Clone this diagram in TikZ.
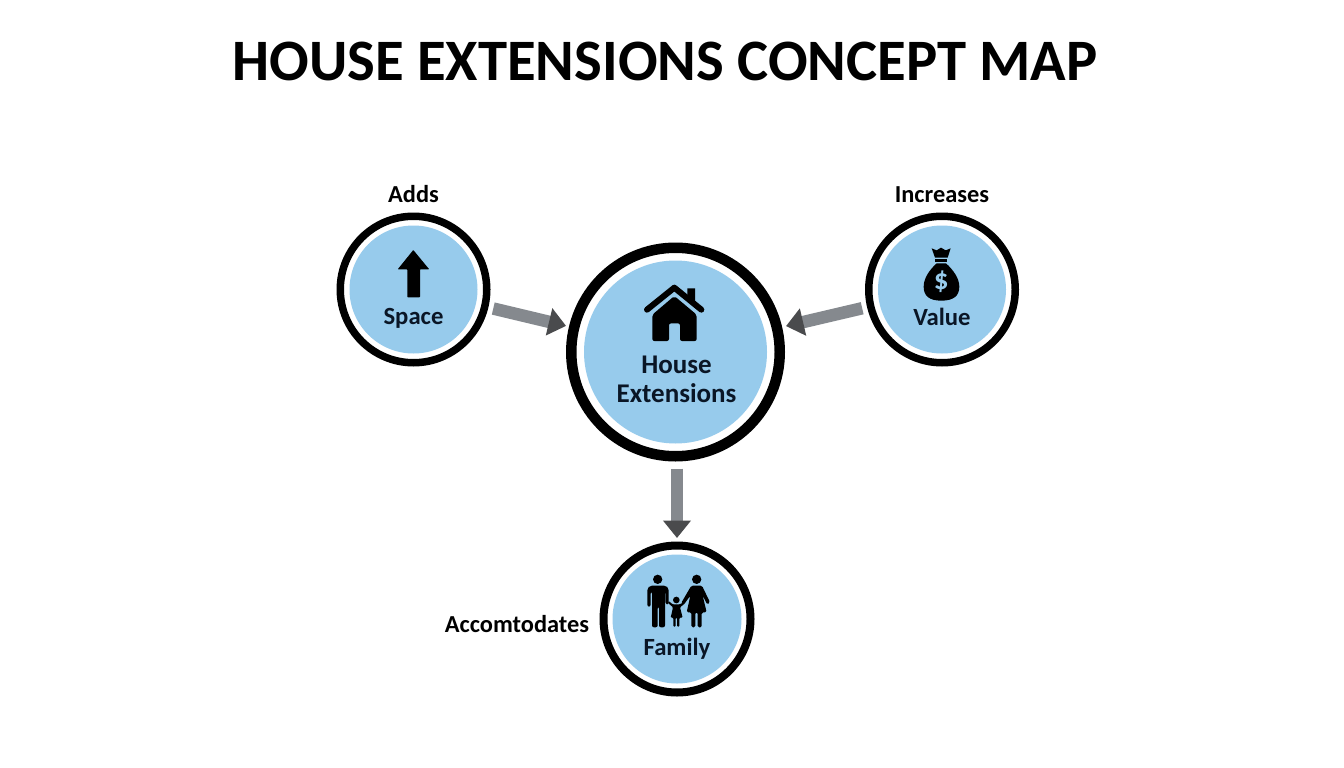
\documentclass[tikz,border=0pt]{standalone}
\usepackage{fontspec}
\setmainfont{Carlito}
\usetikzlibrary{arrows.meta}
\definecolor{bubble}{HTML}{97CBEC}
\definecolor{ink}{HTML}{0A1626}
\definecolor{shaft}{HTML}{85898E}
\definecolor{headc}{HTML}{4A4B4D}
\tikzset{
  x=1pt,y=-1pt,
  ringnode/.style n args={3}{circle,draw=black,fill=white,inner sep=0pt,
    line width=#2,minimum size=#1,
    path picture={\fill[bubble] (path picture bounding box.center) circle (#3);}},
  conn/.style={draw=shaft,line width=12.5pt,
    -{Triangle[length=17.5pt,width=27pt,color=headc]}},
  caption/.style={font=\fontsize{24.4}{28}\selectfont\bfseries,text=black,inner sep=0pt},
  inner label/.style={font=\fontsize{24.7}{29}\selectfont\bfseries,text=ink,inner sep=0pt,align=center},
}
\begin{document}
\begin{tikzpicture}
\useasboundingbox (0,0) rectangle (1344,768);
\fill[white] (0,0) rectangle (1344,768);
\node[font=\fontsize{58.7}{64}\selectfont\bfseries,text=black,inner sep=0pt] (title) at (665,61) {HOUSE EXTENSIONS CONCEPT MAP};

\node[ringnode={208.5pt}{10.5pt}{91.5pt}] (house) at (675.5,352) {};
\node[ringnode={146.5pt}{7.5pt}{64pt}] (space) at (413.5,289.5) {};
\node[ringnode={146.5pt}{7.5pt}{64pt}] (value) at (942,289.5) {};
\node[ringnode={147pt}{8pt}{64.5pt}] (family) at (677,619) {};

\draw[conn,shorten <=5pt,shorten >=3pt] (space) -- (house);
\draw[conn,shorten <=5pt,shorten >=4pt] (value) -- (house);
\draw[conn,shorten <=7pt,shorten >=3.5pt] (family |- house.south) -- (family.north);

\node[caption] (adds) at (413.5,194) {Adds};
\node[caption] (incr) at (942,195) {Increases};
\node[caption] (acc) at (517,624.5) {Accomtodates};

\node[inner label] (spacet) at (413.5,318) {Space};
\node[inner label] (valuet) at (942,317) {Value};
\node[inner label] (familyt) at (677,649) {Family};
\node[inner label,font=\fontsize{27}{29}\selectfont\bfseries] (houset) at (676.5,379) {House\\Extensions};

% arrow icon
\fill[black,rounded corners=0.6pt] (413.3,250) -- (429.2,269.3) -- (420,269.3) -- (420,297.3) -- (407.3,297.3) -- (407.3,269.3) -- (397.7,269.3) -- cycle;

% house icon
\begin{scope}[shift={(560,240)},scale=1/3]
  \fill[black] (382,145) -- (405,145) -- (405,190) -- (382,172) -- cycle;
  \draw[black,line width=6pt,line cap=round,line join=round] (261,209) -- (343,143) -- (424,209);
  \fill[black,rounded corners=2pt,even odd rule]
    (343,168) -- (410,224) -- (410,303) -- (360,303) -- (360,250) -- (327,250) -- (327,303) -- (277,303) -- (277,224) -- cycle;
\end{scope}

% money bag icon
\begin{scope}[shift={(780,170)},scale=1/3]
  \fill[black] (455,235) -- (470,241) -- (483,233) -- (497,241) -- (512,235) -- (503,263) -- (465,263) -- cycle;
  \fill[black] (466,267) rectangle (502,275);
  \fill[black] (470,280) -- (498,280) .. controls (520,300) and (538,325) .. (538,350)
     .. controls (538,378) and (520,392) .. (484,392)
     .. controls (448,392) and (431,378) .. (431,350)
     .. controls (431,325) and (448,300) .. (470,280) -- cycle;
  \node[font=\fontsize{29}{31}\selectfont\bfseries,text=bubble,inner sep=0pt] (dollar) at (484,336) {\$};
\end{scope}

% family icon
\begin{scope}[shift={(630,565)},scale=1/3]
  % man
  \fill[black] (83,43) circle (14);
  \fill[black,rounded corners=2pt] (52,125) -- (52,70) -- (60,62) -- (108,62) -- (116,70) -- (116,118) -- (107,118) -- (107,80) -- (105,80) -- (105,187) -- (87,187) -- (87,125) -- (83,125) -- (83,187) -- (66,187) -- (66,80) -- (62,80) -- (62,125) -- cycle;
  % woman
  \fill[black] (200,43) circle (14);
  \fill[black,rounded corners=1.5pt] (184,62) -- (216,62) -- (240,112) -- (232,119) -- (218,92) -- (230,142) -- (215,142) -- (215,187) -- (203,187) -- (203,142) -- (196,142) -- (196,187) -- (184,187) -- (184,142) -- (170,142) -- (181,92) -- (160,121) -- (153,115) -- cycle;
  % child
  \fill[black] (139,105) circle (10);
  \fill[black,rounded corners=1pt] (128,118) -- (150,118) -- (160,112) -- (163,117) -- (150,127) -- (158,158) -- (148,158) -- (148,185) -- (141,185) -- (141,158) -- (137,158) -- (137,185) -- (130,185) -- (130,158) -- (122,158) -- (129,127) -- (113,113) -- (116,108) -- cycle;
\end{scope}
\end{tikzpicture}
\end{document}
